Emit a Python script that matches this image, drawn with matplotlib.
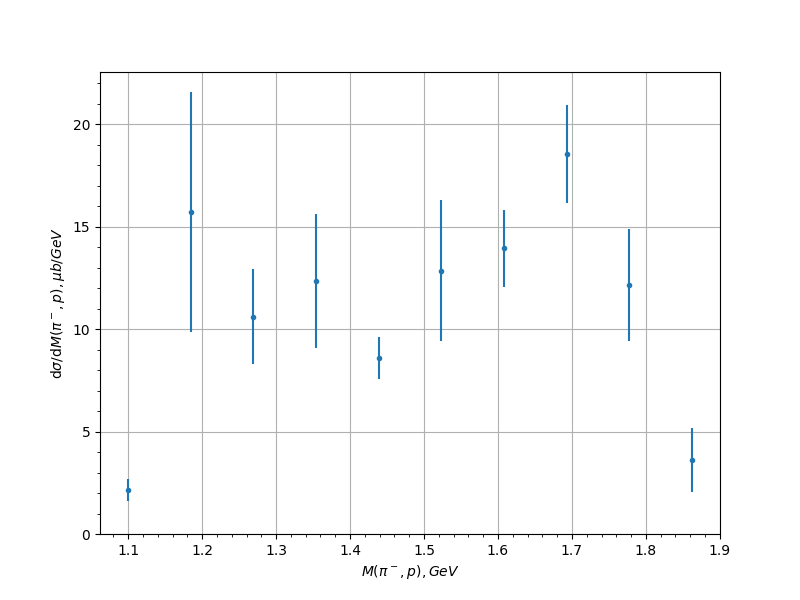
import numpy as np
import matplotlib
matplotlib.use('Agg')
import matplotlib.pyplot as plt

# invariant mass bins, GeV
mass = [1.1, 1.1847, 1.2694, 1.354, 1.4387, 1.5234, 1.6081, 1.6927, 1.7774, 1.8621]
# cross section, mub/GeV
xsec = [2.15, 15.7, 10.6, 12.35, 8.6, 12.85, 13.95, 18.55, 12.15, 3.6]
xsec_err = [0.52, 5.85, 2.32, 3.25, 1.03, 3.44, 1.88, 2.4, 2.73, 1.55]

fig = plt.figure(figsize=(8, 6), dpi=100)
ax = fig.add_subplot(111)

ax.errorbar(mass, xsec, yerr=xsec_err, fmt='.')
ax.set_ylim(bottom=0)
ax.minorticks_on()
ax.grid(True, which='major')
ax.set_xlabel(r'$M(\pi^-, p), GeV$')
ax.set_ylabel(r'd$\sigma$/d$M(\pi^-, p), \mu b/GeV$')

fig.savefig('out.png')
